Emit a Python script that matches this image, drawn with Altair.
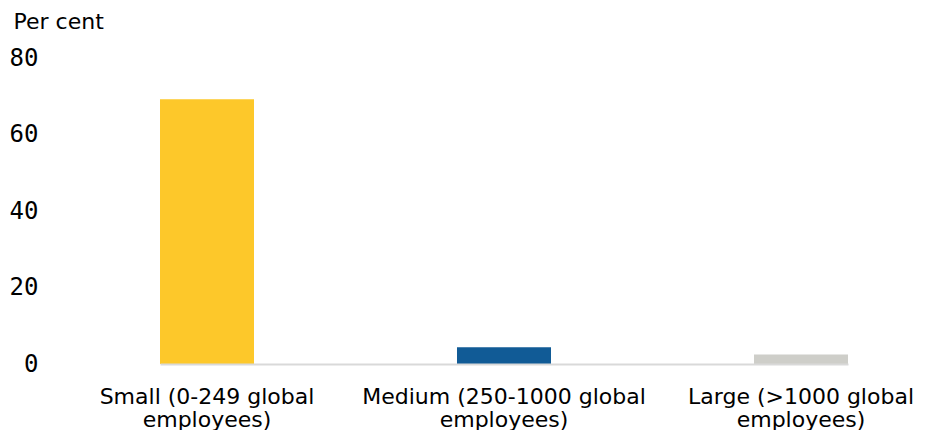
import altair as alt
import pandas as pd

categories = ["Small (0-249 global|employees)",
              "Medium (250-1000 global|employees)",
              "Large (>1000 global|employees)"]
values = [69.2, 4.4, 2.5]
colors = ["#FDC82A", "#115B96", "#CECEC9"]
y_ticks = [0, 20, 40, 60, 80]

df = pd.DataFrame({"cat": categories, "val": values, "col": colors})

chart = alt.Chart(df).mark_bar().encode(
    x=alt.X("cat:N", sort=None,
            scale=alt.Scale(paddingInner=0.6835, paddingOuter=0, range=[102, 790]),
            axis=alt.Axis(title=None, labelAngle=0,
                          labelExpr="split(datum.label, '|')",
                          labelFont="DejaVu Sans", labelFontSize=22,
                          labelLineHeight=23, labelColor="#000000",
                          labelPadding=22, labelLimit=0, ticks=False,
                          labelOverlap=False,
                          domainColor="#D9D9D9", domainWidth=2,
                          zindex=1)),
    y=alt.Y("val:Q",
            scale=alt.Scale(domain=[0, 80], nice=False),
            axis=alt.Axis(values=y_ticks, grid=False, domain=False, ticks=False,
                          labelFont="DejaVu Sans Mono", labelFontSize=24,
                          labelColor="#000000", labelPadding=20,
                          minExtent=50, maxExtent=50,
                          title="Per cent", titleAngle=0, titleAlign="left",
                          titleBaseline="top", titleX=-45, titleY=-47,
                          titleFont="DejaVu Sans", titleFontSize=22,
                          titleFontWeight="normal", titleColor="#000000")),
    color=alt.Color("col:N", scale=None),
).properties(
    width=874, height=306,
    padding={"left": 0, "top": 2, "right": 0, "bottom": 0},
).configure_view(stroke=None)

chart.save("out.html", embed_options={"renderer": "svg", "actions": False})
